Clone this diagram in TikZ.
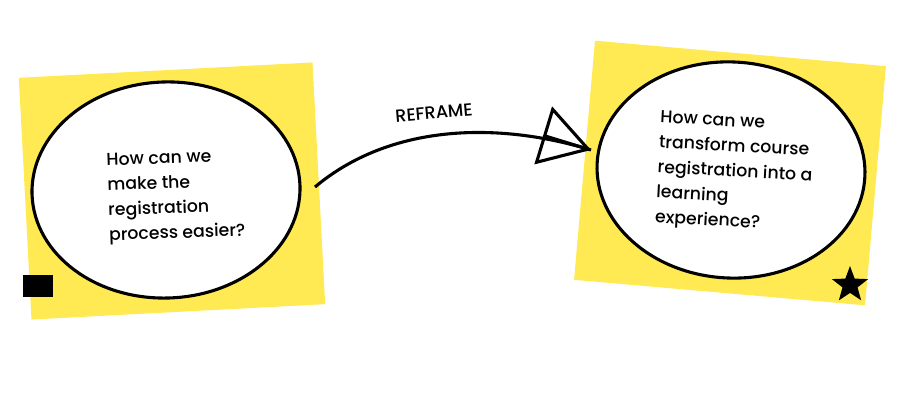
\documentclass[tikz,border=0pt]{standalone}
\usepackage{fontspec}
\setmainfont{Poppins Medium}
\usetikzlibrary{positioning}
\usetikzlibrary{arrows.meta}
\usetikzlibrary{shapes.geometric}
\definecolor{stickyc}{RGB}{255,234,84}

\begin{document}
\begin{tikzpicture}[x=0.025cm,y=0.025cm,
  sticky/.style={fill=stickyc,shape=rectangle,minimum width=7.35cm,minimum height=6.05cm},
  bubble/.style={draw,line width=2.2pt,fill=white,shape=ellipse,minimum width=6.7cm,minimum height=5.4cm},
  question/.style={align=left,font=\fontsize{12.3}{17.8}\selectfont}]
\useasboundingbox (0,0) rectangle (906,405);

\node[sticky,rotate=3] (noteL) at (172,214) {};
\node[sticky,rotate=-5,minimum width=7.3cm,minimum height=6.0cm] (noteR) at (730,232) {};

\node[bubble,rotate=2] (bubbleL) at (166,215) {};
\node[bubble,rotate=-3] (bubbleR) at (731,235) {};

\node[question,rotate=2] (textL) at (176,208)
{How can we\\make the\\registration\\process easier?};
\node[question,rotate=-3] (textR) at (735,232)
{How can we\\transform course\\registration into a\\learning\\experience?};

\node[fill=black,shape=rectangle,minimum width=0.75cm,minimum height=0.55cm,inner sep=0pt] (mark) at (38,119) {};
\node[fill=black,shape=star,star points=5,star point ratio=2.4,minimum size=0.95cm,inner sep=0pt] (fav) at (850,120) {};

% reframe arrow
\coordinate (from) at (315,218);
\coordinate (to) at (591,255);
\coordinate (back) at ([shift={(163:2)}]to);
\draw[line width=2.2pt] (from) to[out=40,in=163,looseness=0.9] (to);
\draw[line width=2.2pt,
  -{Triangle[open,length=1.25cm,width=1.5cm,line width=2.2pt]}] (back) -- (to);
\node[rotate=5,font=\fontsize{12.5}{14}\selectfont] (reframe) at (434,292) {REFRAME};

\end{tikzpicture}
\end{document}
